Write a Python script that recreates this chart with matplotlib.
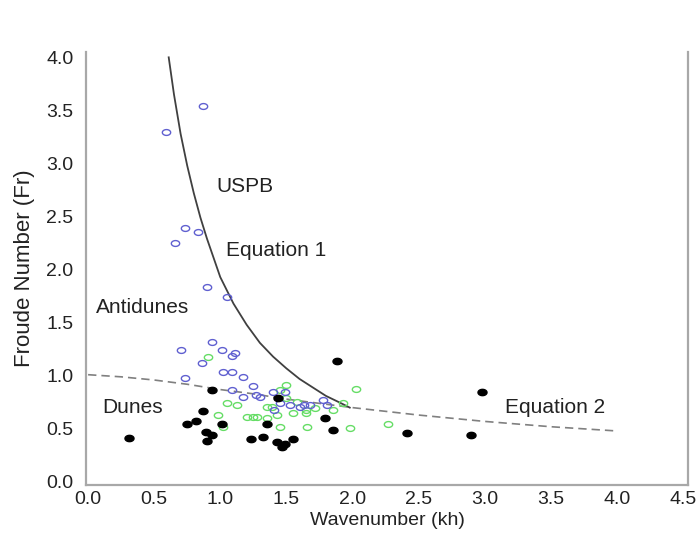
import numpy as np
import matplotlib
matplotlib.use("Agg")
import matplotlib.pyplot as plt
from matplotlib.path import Path

plt.rcParams['font.family'] = ['Liberation Sans', 'DejaVu Sans']

# data (kh, Fr)
blue_kh = [0.87, 0.59, 0.73, 0.83, 0.66, 0.90, 1.05, 0.94, 0.70, 1.01, 1.09, 1.11,
           0.86, 0.73, 1.02, 1.09, 1.17, 1.25, 1.09, 1.17, 1.30, 1.45, 1.53, 1.60,
           1.68, 1.49, 1.78, 1.81, 1.63, 1.41, 1.27, 1.40]
blue_fr = [3.54, 3.30, 2.39, 2.35, 2.25, 1.84, 1.74, 1.32, 1.24, 1.24, 1.19, 1.21,
           1.12, 0.98, 1.04, 1.04, 0.99, 0.90, 0.87, 0.80, 0.80, 0.74, 0.72, 0.71,
           0.72, 0.85, 0.77, 0.72, 0.72, 0.68, 0.82, 0.85]

green_kh = [0.91, 1.05, 1.13, 0.98, 1.02, 1.25, 1.20, 1.45, 1.50, 1.43, 1.55, 1.65,
            1.45, 1.28, 1.39, 1.50, 2.03, 1.35, 1.65, 1.85, 1.93, 1.66, 1.98, 1.35,
            2.27, 1.58, 1.72]
green_fr = [1.18, 0.74, 0.72, 0.63, 0.52, 0.61, 0.61, 0.87, 0.79, 0.63, 0.65, 0.68,
            0.52, 0.61, 0.71, 0.91, 0.88, 0.71, 0.65, 0.68, 0.74, 0.52, 0.51, 0.60,
            0.55, 0.75, 0.70]

black_kh = [0.31, 0.94, 0.87, 0.82, 0.75, 1.01, 0.89, 0.94, 0.90, 1.23, 1.32, 1.35,
            1.43, 1.47, 1.55, 1.44, 1.88, 1.79, 1.85, 2.41, 2.90, 2.98, 1.49]
black_fr = [0.41, 0.87, 0.67, 0.57, 0.55, 0.55, 0.47, 0.44, 0.39, 0.40, 0.42, 0.55,
            0.38, 0.33, 0.40, 0.79, 1.14, 0.60, 0.49, 0.46, 0.44, 0.85, 0.36]

# Equation 1 curve
eq1_kh = [0.61, 0.65, 0.70, 0.75, 0.80, 0.85, 0.90, 1.00, 1.10, 1.20, 1.30, 1.40,
          1.50, 1.60, 1.70, 1.80, 1.90, 1.98]
eq1_fr = [4.00, 3.65, 3.28, 2.98, 2.72, 2.49, 2.29, 1.93, 1.68, 1.48, 1.31, 1.18,
          1.07, 0.97, 0.89, 0.81, 0.75, 0.70]

# Equation 2 curve
eq2_kh = [0.0, 0.25, 0.5, 0.75, 1.0, 1.25, 1.5, 1.75, 2.0, 2.5, 3.0, 3.5, 4.0]
eq2_fr = [1.01, 0.99, 0.96, 0.92, 0.87, 0.83, 0.78, 0.74, 0.70, 0.63, 0.57, 0.52, 0.48]

xticks = [0.0, 0.5, 1.0, 1.5, 2.0, 2.5, 3.0, 3.5, 4.0, 4.5]
yticks = [0.0, 0.5, 1.0, 1.5, 2.0, 2.5, 3.0, 3.5, 4.0]

# slightly flattened circle, like the markers in the scan
t = np.linspace(0, 2 * np.pi, 40)
ell = Path(np.column_stack([np.cos(t), 0.7 * np.sin(t)]), closed=True)

fig = plt.figure(figsize=(7, 5.42), dpi=100)
ax = fig.add_axes([0.123, 0.105, 0.860, 0.799])

ax.plot(eq2_kh, eq2_fr, color='#808080', lw=1.2, ls=(0, (5, 3)), zorder=2)
ax.plot(eq1_kh, eq1_fr, color='#404040', lw=1.3, zorder=2)

ax.plot(green_kh, green_fr, ls='none', marker=ell, ms=6, mfc='none',
        mec='#66dd66', mew=1.0, zorder=3)
ax.plot(blue_kh, blue_fr, ls='none', marker=ell, ms=6, mfc='none',
        mec='#6060d0', mew=1.0, zorder=4)
ax.plot(black_kh, black_fr, ls='none', marker=ell, ms=6.5, mfc='black',
        mec='black', zorder=5)

txt = dict(fontsize=15, color='#222222', ha='center', va='center')
ax.text(1.19, 2.78, 'USPB', **txt)
ax.text(1.42, 2.18, 'Equation 1', **txt)
ax.text(0.41, 1.64, 'Antidunes', **txt)
ax.text(0.34, 0.70, 'Dunes', **txt)
ax.text(3.53, 0.70, 'Equation 2', **txt)

ax.set_xlim(-0.015, 4.54)
ax.set_ylim(-0.03, 4.05)
ax.set_xticks(xticks)
ax.set_yticks(yticks)
ax.set_xticklabels(['%.1f' % v for v in xticks])
ax.set_yticklabels(['%.1f' % v for v in yticks])
ax.set_xticks([1.5, 3.0], minor=True)
ax.set_yticks([1.0, 3.0], minor=True)
ax.tick_params(which='major', length=0, labelsize=14, labelcolor='#222222')
ax.tick_params(axis='x', which='major', pad=4)
ax.tick_params(axis='y', which='major', pad=9)
ax.tick_params(which='minor', length=3, direction='in', color='#999999')

for s in ['left', 'bottom', 'right']:
    ax.spines[s].set_color('#a8a8a8')
    ax.spines[s].set_linewidth(1.6)
ax.spines['top'].set_visible(False)

ax.set_xlabel('Wavenumber (kh)', fontsize=14, color='#222222', labelpad=3)
ax.set_ylabel('Froude Number (Fr)', fontsize=16, color='#222222', labelpad=8)

fig.savefig('out.png', dpi=100)
